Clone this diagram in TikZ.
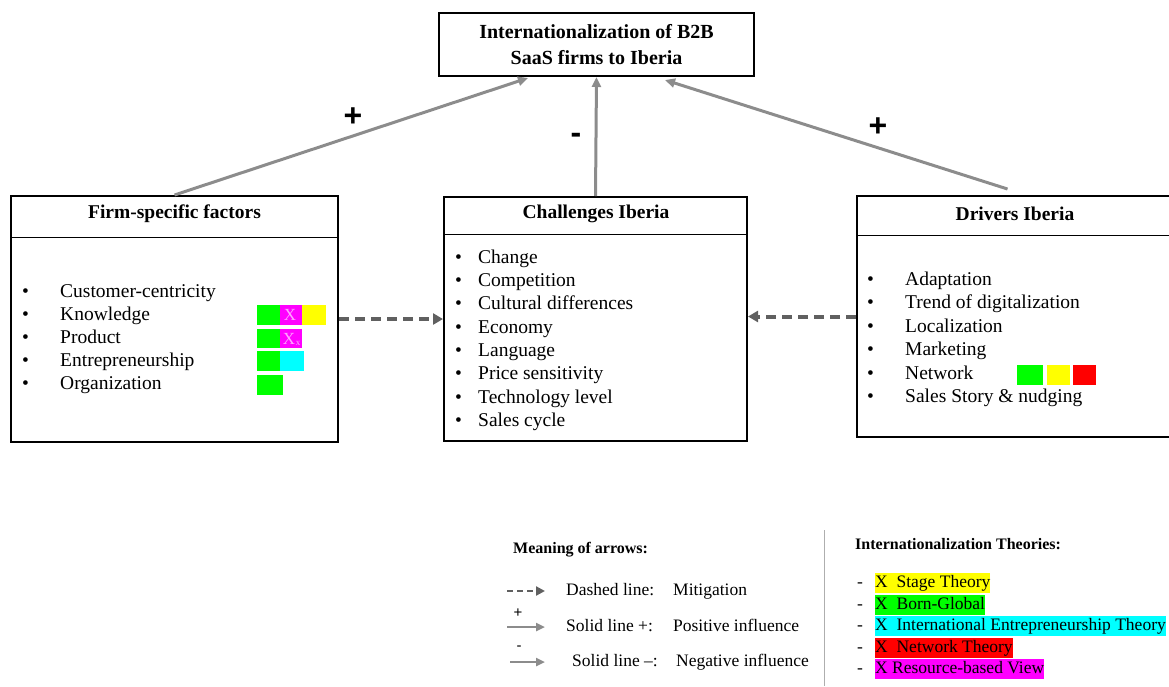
\documentclass[tikz,border=0pt]{standalone}
\usepackage{fontspec}
\setmainfont{Liberation Serif}
\newfontfamily\signfont{Liberation Sans}
\usetikzlibrary{arrows.meta}
\definecolor{hlgreen}{RGB}{0,255,0}
\definecolor{hlyellow}{RGB}{255,255,0}
\definecolor{hlcyan}{RGB}{0,255,255}
\definecolor{hlred}{RGB}{255,0,0}
\definecolor{hlmagenta}{RGB}{255,0,255}
\definecolor{arrowgray}{RGB}{140,140,140}
\definecolor{dashgray}{RGB}{96,96,96}
\begin{document}
\begin{tikzpicture}[x=1pt,y=-1pt,
  box/.style={draw, line width=2pt, inner sep=0pt},
  infl/.style={-{Triangle[length=10pt,width=9pt]}, line width=3pt, arrowgray},
  mitig/.style={-{Triangle[length=10pt,width=11pt]}, line width=4pt, dash pattern=on 10pt off 6pt, dashgray},
  head/.style={font=\fontsize{19.5}{23}\selectfont\bfseries, inner sep=0pt},
  item/.style={anchor=west, font=\fontsize{19.5}{23}\selectfont, inner sep=0pt, text height=14pt, text depth=4pt},
  sign/.style={font=\fontsize{32}{32}\selectfont\signfont\bfseries, inner sep=0pt},
  legend/.style={anchor=west, font=\fontsize{17.5}{21}\selectfont, inner sep=0pt, text height=13pt, text depth=4pt},
  theory/.style={anchor=west, font=\fontsize{17.5}{21}\selectfont, inner xsep=0pt, inner ysep=0pt, text height=14.5pt, text depth=5.5pt, fill=#1}]
\useasboundingbox (0,0) rectangle (1169,686);

% boxes
\node[box, minimum width=315pt, minimum height=63pt, align=center,
  font=\fontsize{20}{26}\selectfont\bfseries] (target) at (596.5,44.5)
  {Internationalization of B2B\\SaaS firms to Iberia};
\node[box, minimum width=327pt, minimum height=246pt] (firm) at (174.5,319) {};
\node[box, minimum width=303pt, minimum height=244pt] (chall) at (595.5,319) {};
\node[box, minimum width=323pt, minimum height=241pt] (driv) at (1018.5,316.5) {};

% header lines
\draw[line width=1pt] ([yshift=-42pt]firm.north west) -- ([yshift=-42pt]firm.north east);
\draw[line width=1pt] ([yshift=-38pt]chall.north west) -- ([yshift=-38pt]chall.north east);
\draw[line width=1pt] ([yshift=-40pt]driv.north west) -- ([yshift=-40pt]driv.north east);

\node[head] (firmhead) at (174.5,214) {Firm-specific factors};
\node[head] (challhead) at (596,214) {Challenges Iberia};
\node[head] (drivhead) at (1015,214) {Drivers Iberia};

% firm-specific factors
\foreach \txt [count=\i] in {Customer-centricity, Knowledge, Product, Entrepreneurship, Organization}
{
  \node[item] at (22,269+23*\i) {\textbullet};
  \node[item] (firm\i) at (60,269+23*\i) {\txt};
}
\fill[hlgreen] (257,305) rectangle (280,325);
\fill[hlmagenta] (280,305) rectangle (302,325);
\fill[hlyellow] (302,305) rectangle (326,325);
\fill[hlgreen] (257,329) rectangle (280,348);
\fill[hlmagenta] (280,329) rectangle (302,348);
\fill[hlgreen] (257,351) rectangle (280,371);
\fill[hlcyan] (280,351) rectangle (304,371);
\fill[hlgreen] (257,375) rectangle (283,395);
\node[font=\fontsize{17}{17}\selectfont, text=hlmagenta!35, inner sep=0pt] at (290,315) {X};
\node[font=\fontsize{17}{17}\selectfont, text=hlmagenta!35, inner sep=0pt] at (289,339) {X};
\node[font=\fontsize{9}{9}\selectfont, text=hlmagenta!35, inner sep=0pt] at (298,343) {x};

% challenges
\foreach \txt [count=\i] in {Change, Competition, Cultural differences, Economy, Language, Price sensitivity, Technology level, Sales cycle}
{
  \node[item] at (455,235+23.3*\i) {\textbullet};
  \node[item] (chall\i) at (478,235+23.3*\i) {\txt};
}

% drivers
\foreach \txt [count=\i] in {Adaptation, Trend of digitalization, Localization, Marketing, Network, Sales Story \& nudging}
{
  \node[item] at (867,257+23.4*\i) {\textbullet};
  \node[item] (driv\i) at (905,257+23.4*\i) {\txt};
}
\fill[hlgreen] (1017,365) rectangle (1043,385);
\fill[hlyellow] (1047,365) rectangle (1070,385);
\fill[hlred] (1073,365) rectangle (1096,385);

% influence arrows
\coordinate (tfirm) at (528,78);
\coordinate (tdriv) at (665,80);
\draw[infl] (firm.north) -- (tfirm);
\draw[infl] (chall.north) -- (target.south);
\draw[infl] ([shift={(-11pt,6pt)}]driv.north) -- (tdriv);
\node[sign] (plusl) at (353,117) {+};
\node[sign] (minusm) at (576,138) {-};
\node[sign] (plusr) at (878,127) {+};

% mitigation arrows
\draw[mitig] (firm.east) -- (chall.west);
\draw[mitig] (driv.west) -- (chall.east |- driv.west);

% legend: arrows
\draw[arrowgray!70, line width=1pt] (824,530) -- (824,686);
\node[anchor=west, font=\fontsize{16}{19}\selectfont\bfseries, inner sep=0pt] (meaning) at (513,550) {Meaning of arrows:};
\coordinate (dashA) at (507,591);
\coordinate (dashB) at (545,591);
\coordinate (posA) at (507,627);
\coordinate (posB) at (545,627);
\coordinate (negA) at (510,662);
\coordinate (negB) at (545,662);
\draw[-{Triangle[length=9pt,width=9pt]}, line width=2.5pt, dash pattern=on 6pt off 4pt, dashgray] (dashA) -- (dashB);
\draw[-{Triangle[length=9pt,width=8pt]}, line width=2.5pt, arrowgray] (posA) -- (posB);
\draw[-{Triangle[length=9pt,width=8pt]}, line width=2.5pt, arrowgray] (negA) -- (negB);
\node[font=\fontsize{15}{15}\selectfont\signfont, inner sep=0pt] (plusleg) at (518,613) {+};
\node[font=\fontsize{15}{15}\selectfont\signfont, inner sep=0pt] (minusleg) at (519,648) {-};
\node[legend] (dashtxt) at (566,591) {Dashed line:};
\node[legend] (dashmean) at (673,591) {Mitigation};
\node[legend] (postxt) at (566,627) {Solid line +:};
\node[legend] (posmean) at (673,627) {Positive influence};
\node[legend] (negtxt) at (572,662) {Solid line --:};
\node[legend] (negmean) at (676,662) {Negative influence};

% legend: theories
\node[anchor=west, font=\fontsize{16}{19}\selectfont\bfseries, inner sep=0pt] (theories) at (855,544) {Internationalization Theories:};
\foreach \y in {583,604.5,626,647.5,669}
  \node[legend] at (857,\y) {-};
\node[theory=hlyellow] (stage) at (875,583) {X\ \ Stage Theory};
\node[theory=hlgreen] (born) at (875,604.5) {X\ \ Born-Global};
\node[theory=hlcyan] (ient) at (875,626) {X\ \ International Entrepreneurship Theory};
\node[theory=hlred] (netw) at (875,647.5) {X\ \ Network Theory};
\node[theory=hlmagenta] (rbv) at (875,669) {X Resource-based View};
\end{tikzpicture}
\end{document}
